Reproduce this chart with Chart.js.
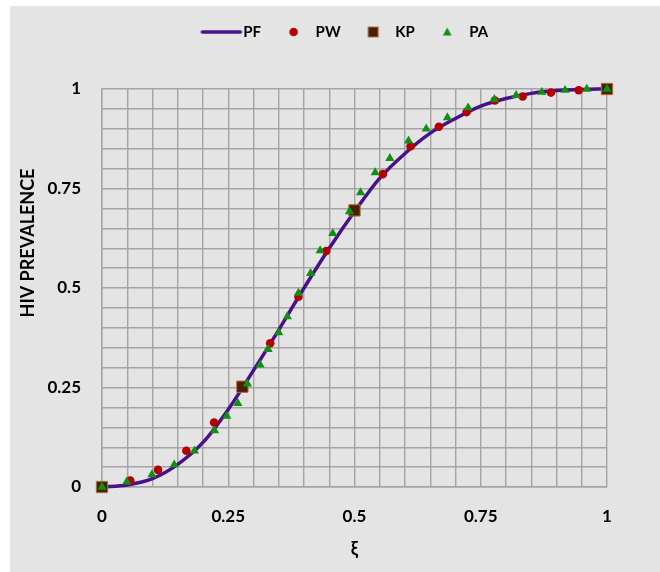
<!DOCTYPE html>
<html>
<head>
<meta charset="utf-8">
<script src="https://cdn.jsdelivr.net/npm/chart.js@4"></script>
<style>
html, body { margin: 0; padding: 0; background: #fff; }
#wrap { position: absolute; left: 10px; top: 6px; width: 650px; height: 566px; background: #e4e4e4; }
canvas { display: block; }
</style>
</head>
<body>
<div id="wrap"><canvas id="chart" width="650" height="566"></canvas></div>
<script>
// PF: fitted curve
const pfX = [0, 0.05, 0.1, 0.15, 0.2, 0.25, 0.3, 0.35, 0.4, 0.45, 0.5, 0.55, 0.6, 0.65, 0.7, 0.75, 0.8, 0.85, 0.9, 0.95, 1];
const pfY = [0, 0.005, 0.021, 0.057, 0.112, 0.195, 0.293, 0.395, 0.5, 0.6, 0.692, 0.776, 0.838, 0.889, 0.926, 0.957, 0.976, 0.989, 0.996, 0.999, 1];

// PW: red circles
const pwX = [0, 0.056, 0.111, 0.167, 0.222, 0.278, 0.333, 0.389, 0.444, 0.5, 0.556, 0.611, 0.667, 0.722, 0.778, 0.833, 0.889, 0.944, 1];
const pwY = [0, 0.016, 0.043, 0.091, 0.162, 0.252, 0.361, 0.478, 0.593, 0.695, 0.786, 0.856, 0.905, 0.942, 0.971, 0.981, 0.991, 0.997, 1];

// KP: brown squares
const kpX = [0, 0.278, 0.5, 1];
const kpY = [0, 0.252, 0.695, 1];

// PA: green triangles
const paX = [0, 0.049, 0.099, 0.143, 0.183, 0.223, 0.247, 0.269, 0.288, 0.313, 0.329, 0.35, 0.367, 0.389, 0.413, 0.432, 0.457, 0.49, 0.512, 0.541, 0.57, 0.607, 0.642, 0.684, 0.725, 0.777, 0.82, 0.871, 0.917, 0.96, 1];
const paY = [0, 0.013, 0.031, 0.056, 0.091, 0.142, 0.178, 0.21, 0.259, 0.307, 0.346, 0.388, 0.428, 0.487, 0.537, 0.594, 0.637, 0.692, 0.74, 0.79, 0.826, 0.87, 0.9, 0.928, 0.953, 0.974, 0.984, 0.992, 0.997, 1.0, 1.0];

const tickLabels = ['0', '0.25', '0.5', '0.75', '1'];

const pts = (xs, ys) => xs.map((x, i) => ({ x: x, y: ys[i] }));

const PF_COLOR = '#48108a';
const PW_COLOR = '#b40000';
const KP_COLOR = '#4a2000';
const KP_EDGE = '#a87040';
const PA_COLOR = '#109010';
const GRID = '#a4a4a4';

// legend symbols, drawn a bit left of the box centre so the text gap matches
function legendIcon(kind) {
    const c = document.createElement('canvas');
    c.width = 60; c.height = 18;
    const g = c.getContext('2d');
    const cx = 23, cy = 9;
    if (kind === 'line') {
        g.strokeStyle = PF_COLOR; g.lineWidth = 3.5; g.lineCap = 'round';
        g.beginPath(); g.moveTo(4, cy); g.lineTo(42, cy); g.stroke();
    } else if (kind === 'circle') {
        g.fillStyle = PW_COLOR;
        g.beginPath(); g.arc(cx, cy, 4.3, 0, Math.PI * 2); g.fill();
    } else if (kind === 'rect') {
        g.fillStyle = KP_COLOR; g.fillRect(cx - 5, cy - 5, 10, 10);
        g.strokeStyle = KP_EDGE; g.lineWidth = 1; g.strokeRect(cx - 5, cy - 5, 10, 10);
    } else {
        g.fillStyle = PA_COLOR;
        g.beginPath(); g.moveTo(cx, cy - 4.5); g.lineTo(cx + 4.3, cy + 3.5); g.lineTo(cx - 4.3, cy + 3.5); g.closePath(); g.fill();
    }
    return c;
}
const icons = [legendIcon('line'), legendIcon('circle'), legendIcon('rect'), legendIcon('tri')];

const tickLabel = v => {
    const q = Math.round(v * 20);
    return q % 5 === 0 ? tickLabels[q / 5] : '';
};

Chart.defaults.font.family = 'Lato';
Chart.defaults.color = '#000';

const ctx = document.getElementById('chart').getContext('2d');
const chart = new Chart(ctx, {
    type: 'scatter',
    data: {
        datasets: [
            {
                label: 'PF',
                data: pts(pfX, pfY),
                showLine: true,
                borderColor: PF_COLOR,
                borderWidth: 3.5,
                pointRadius: 0,
                cubicInterpolationMode: 'monotone',
                clip: false,
                order: 4
            },
            {
                label: 'PW',
                data: pts(pwX, pwY),
                pointStyle: 'circle',
                pointRadius: 4.3,
                backgroundColor: PW_COLOR,
                borderColor: PW_COLOR,
                borderWidth: 0,
                clip: false,
                order: 3
            },
            {
                label: 'KP',
                data: pts(kpX, kpY),
                pointStyle: 'rect',
                pointRadius: 8,
                backgroundColor: KP_COLOR,
                borderColor: KP_EDGE,
                borderWidth: 1,
                clip: false,
                order: 2
            },
            {
                label: 'PA',
                data: pts(paX, paY),
                pointStyle: 'triangle',
                pointRadius: 5.3,
                backgroundColor: PA_COLOR,
                borderColor: PA_COLOR,
                borderWidth: 0,
                clip: false,
                order: 1
            }
        ]
    },
    options: {
        responsive: false,
        animation: false,
        devicePixelRatio: 1,
        layout: { padding: { top: -13.5, right: 53, bottom: 0, left: 0 } },
        plugins: {
            tooltip: { enabled: false },
            // blank spacer between legend and plot
            title: {
                display: true,
                text: ' ',
                weight: 500,
                font: { size: 10 },
                padding: { top: 27.5, bottom: 0 }
            },
            legend: {
                position: 'top',
                fullSize: false,
                labels: {
                    usePointStyle: true,
                    padding: 32,
                    font: { size: 15, weight: 'bold' },
                    color: '#000',
                    sort: (a, b) => a.datasetIndex - b.datasetIndex,
                    generateLabels: c => c.data.datasets.map((ds, i) => ({
                        text: ds.label,
                        datasetIndex: i,
                        pointStyle: icons[i],
                        fillStyle: 'transparent',
                        strokeStyle: 'transparent',
                        lineWidth: 0,
                        hidden: false,
                        fontColor: '#000'
                    }))
                }
            }
        },
        scales: {
            x: {
                type: 'linear',
                min: 0,
                max: 1,
                afterFit: s => { s.height = 85; },
                ticks: {
                    stepSize: 0.05,
                    autoSkip: false,
                    maxTicksLimit: 30,
                    maxRotation: 0,
                    padding: 19,
                    font: { size: 17, weight: 'bold' },
                    callback: v => tickLabel(v)
                },
                grid: { color: GRID, lineWidth: 1.4, drawTicks: false },
                border: { color: GRID, width: 1.4 },
                title: {
                    display: true,
                    text: 'ξ',
                    font: { size: 18, weight: 'bold' },
                    padding: { top: 0, bottom: 12 }
                }
            },
            y: {
                type: 'linear',
                min: 0,
                max: 1,
                afterFit: s => { s.width = 92; },
                ticks: {
                    stepSize: 0.05,
                    autoSkip: false,
                    maxTicksLimit: 30,
                    padding: 21,
                    font: { size: 17, weight: 'bold' },
                    callback: v => tickLabel(v)
                },
                grid: { color: GRID, lineWidth: 1.4, drawTicks: false },
                border: { color: GRID, width: 1.4 },
                title: {
                    display: true,
                    text: '\u2003\u2003\u2003\u2003\u2003\u2003\u2002HIV PREVALENCE',
                    font: { size: 18, weight: 'bold' },
                    padding: { top: 7, bottom: 0 }
                }
            }
        }
    }
});
</script>
</body>
</html>
